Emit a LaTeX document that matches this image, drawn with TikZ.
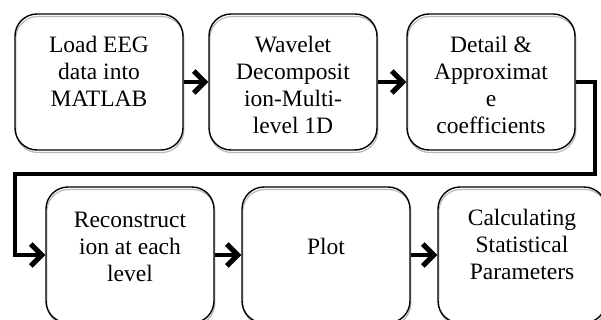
\documentclass[tikz,border=0pt]{standalone}
\usepackage{fontspec}
\setmainfont{Liberation Serif}
\usetikzlibrary{arrows.meta,shadows}
\tikzset{
  flowbox/.style={draw, rounded corners=22pt, minimum width=168pt, minimum height=136pt,
    line width=1.4pt, inner sep=0pt,
    general shadow={draw=gray!55, fill=none, line width=1.2pt, shadow xshift=0.8pt, shadow yshift=-2.5pt}},
  boxtext/.style={anchor=base, align=center, inner sep=0pt,
    font=\fontsize{23.5}{27}\selectfont},
  arr/.style={line width=4.2pt, -{Straight Barb[length=11pt,width=22pt,line width=5pt]}}
}
\begin{document}
\begin{tikzpicture}[x=1pt,y=1pt]
\clip (0,0) rectangle (601,-320);
% boxes
\node[flowbox] (b1) at (99,-82) {};
\node[flowbox] (b2) at (293,-82) {};
\node[flowbox] (b3) at (491,-82) {};
\node[flowbox] (b4) at (130,-255) {};
\node[flowbox] (b5) at (326,-255) {};
\node[flowbox] (b6) at (522,-255) {};
% texts (anchor base = last line's baseline)
\node[boxtext] (t1) at (99,-107) {Load EEG\\data into\\MATLAB};
\begin{scope}
\clip (190,-14) rectangle (601,-133.5);
\node[boxtext] (t2) at (293,-134) {Wavelet\\Decomposit\\ion-Multi-\\level 1D};
\node[boxtext] (t3) at (491,-134) {Detail \&\\Approximat\\e\\coefficients};
\end{scope}
\node[boxtext] (t4) at (130,-281) {Reconstruct\\ion at each\\level};
\node[boxtext] (t5) at (326,-254) {Plot};
\node[boxtext] (t6) at (522,-279) {Calculating\\Statistical\\Parameters};
% connectors
\coordinate (c1) at (595,-174);
\coordinate (c2) at (15,-174);
\draw[arr] (b1.east) -- (b2.west);
\draw[arr] (b2.east) -- (b3.west);
\draw[arr] (b3.east) -| (c1) -- (c2) |- (b4.west);
\draw[arr] (b4.east) -- (b5.west);
\draw[arr] (b5.east) -- (b6.west);
\end{tikzpicture}
\end{document}
